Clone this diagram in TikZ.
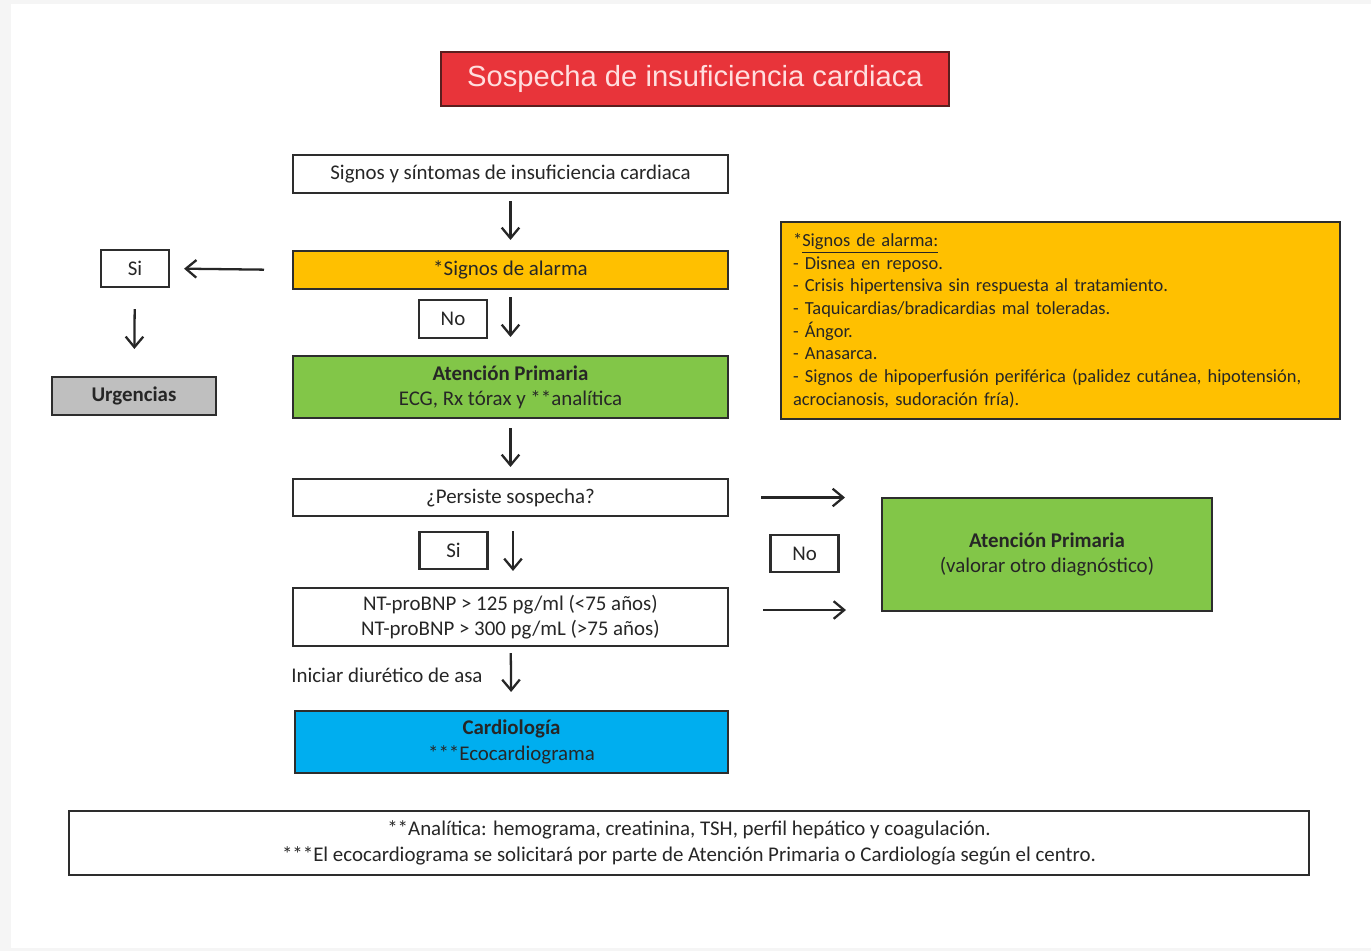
\documentclass[tikz,border=0pt]{standalone}
\usepackage{fontspec}
\setmainfont{Carlito}
\newfontfamily\titlefont{Liberation Sans}
\usetikzlibrary{arrows.meta, positioning, calc}
\usepackage{xcolor}
\definecolor{titleRed}{RGB}{232, 52, 58}
\definecolor{titleEdge}{RGB}{90, 30, 30}
\definecolor{titleText}{RGB}{255, 222, 222}
\definecolor{alarmOrange}{RGB}{255, 192, 0}
\definecolor{primGreen}{RGB}{130, 198, 72}
\definecolor{cardioBlue}{RGB}{0, 174, 239}
\definecolor{urgGray}{RGB}{191, 191, 191}
\definecolor{edgeGray}{RGB}{45, 45, 45}

\begin{document}
\begin{tikzpicture}[
    x=0.02cm, y=-0.02cm,
    box/.style={rectangle, draw=edgeGray, fill=white, line width=1.2pt, align=center, inner sep=0.1cm, font=\fontsize{11.9}{14.4}\selectfont, text=black!85},
    wide/.style={box, minimum width=8.7cm},
    tag/.style={box, minimum width=1.36cm, minimum height=0.74cm},
    arrow/.style={-{Straight Barb[length=6pt, width=10pt]}, line width=1.3pt, black!85}
]

% page
\useasboundingbox (0,0) rectangle (1371,951);
\fill[black!4] (0,0) rectangle (1371,951);
\fill[white] (11,4) rectangle (1371,948);

% Nodes of the main column
\node[box, fill=titleRed, draw=titleEdge, minimum width=10.16cm, minimum height=1.08cm, font=\titlefont\fontsize{16.6}{19}\selectfont, text=titleText] (title) at (695,79) {Sospecha de insuficiencia cardiaca};
\node[wide, minimum height=0.76cm] (sintomas) at (510.5,174) {Signos y síntomas de insuficiencia cardiaca};
\node[wide, fill=alarmOrange, minimum height=0.76cm] (alarma) at (510.5,270) {*Signos de alarma};
\node[wide, fill=primGreen, minimum height=1.24cm] (primaria) at (510.5,387) {\textbf{Atención Primaria}\\ECG, Rx tórax y **analítica};
\node[wide, minimum height=0.74cm] (persiste) at (510.5,497.5) {¿Persiste sospecha?};
\node[wide, minimum height=1.16cm] (ntpro) at (510.5,617) {NT-proBNP > 125 pg/ml (<75 años)\\NT-proBNP > 300 pg/mL (>75 años)};
\node[box, fill=cardioBlue, minimum width=8.66cm, minimum height=1.24cm] (cardio) at (511.5,742) {\textbf{Cardiología}\\***Ecocardiograma};

% Side nodes
\node[tag] (siUrg) at (135,268.5) {Si};
\node[box, fill=urgGray, minimum width=3.28cm, minimum height=0.76cm] (urgencias) at (134,396) {\textbf{Urgencias}};
\node[tag, minimum height=0.76cm] (noAlarma) at (453,319) {No};
\node[tag] (siPersiste) at (453.5,550.5) {Si};
\node[tag] (noPersiste) at (804.5,553.5) {No};
\node[box, fill=primGreen, minimum width=6.6cm, minimum height=2.26cm] (primaria2) at (1047,554.5) {\textbf{Atención Primaria}\\(valorar otro diagnóstico)};
\node[anchor=west, inner sep=0pt, font=\fontsize{11.9}{14.4}\selectfont, text=black!85] (diuretico) at (291,675) {Iniciar diurético de asa};

% Legend boxes
\node[box, fill=alarmOrange, anchor=north west, align=left, text width=10.7cm, inner xsep=0.24cm, minimum height=3.94cm, font=\fontsize{10.5}{12.9}\selectfont] (listaAlarma) at (780,221) {*\underline{Signos de alarma:}\\- Disnea en reposo.\\- Crisis hipertensiva sin respuesta al tratamiento.\\- Taquicardias/bradicardias mal toleradas.\\- Ángor.\\- Anasarca.\\- Signos de hipoperfusión periférica (palidez cutánea, hipotensión,\\acrocianosis, sudoración fría).};
\node[box, minimum width=24.8cm, minimum height=1.28cm] (notas) at (689,843) {**Analítica: hemograma, creatinina, TSH, perfil hepático y coagulación.\\***El ecocardiograma se solicitará por parte de Atención Primaria o Cardiología según el centro.};

% Paths
\draw[arrow, shorten <=0.14cm, shorten >=0.2cm] (sintomas) -- (alarma);
\draw[arrow, shorten <=0.56cm, shorten >=0.28cm] (alarma.west) -- (siUrg.east);
\draw[arrow, shorten <=0.42cm, shorten >=0.54cm] (siUrg) -- (urgencias);
\draw[arrow, shorten <=0.14cm, shorten >=0.36cm] (alarma) -- (primaria);
\draw[arrow, shorten <=0.18cm, shorten >=0.22cm] (primaria) -- (persiste);
\draw[arrow, shorten <=0.28cm, shorten >=0.32cm] ([xshift=0.05cm]persiste.south) -- ([xshift=0.05cm]ntpro.north);
\draw[arrow, shorten <=0.12cm, shorten >=0.36cm] (ntpro) -- (cardio);

% arrows towards the right green box
\draw[arrow, shorten <=0.64cm, shorten >=0.72cm] (persiste.east) -- (persiste.east -| primaria2.west);
\draw[arrow, shorten <=0.68cm, shorten >=0.7cm] ([yshift=0.14cm]ntpro.east) -- ([yshift=0.14cm]ntpro.east -| primaria2.west);

\end{tikzpicture}
\end{document}
